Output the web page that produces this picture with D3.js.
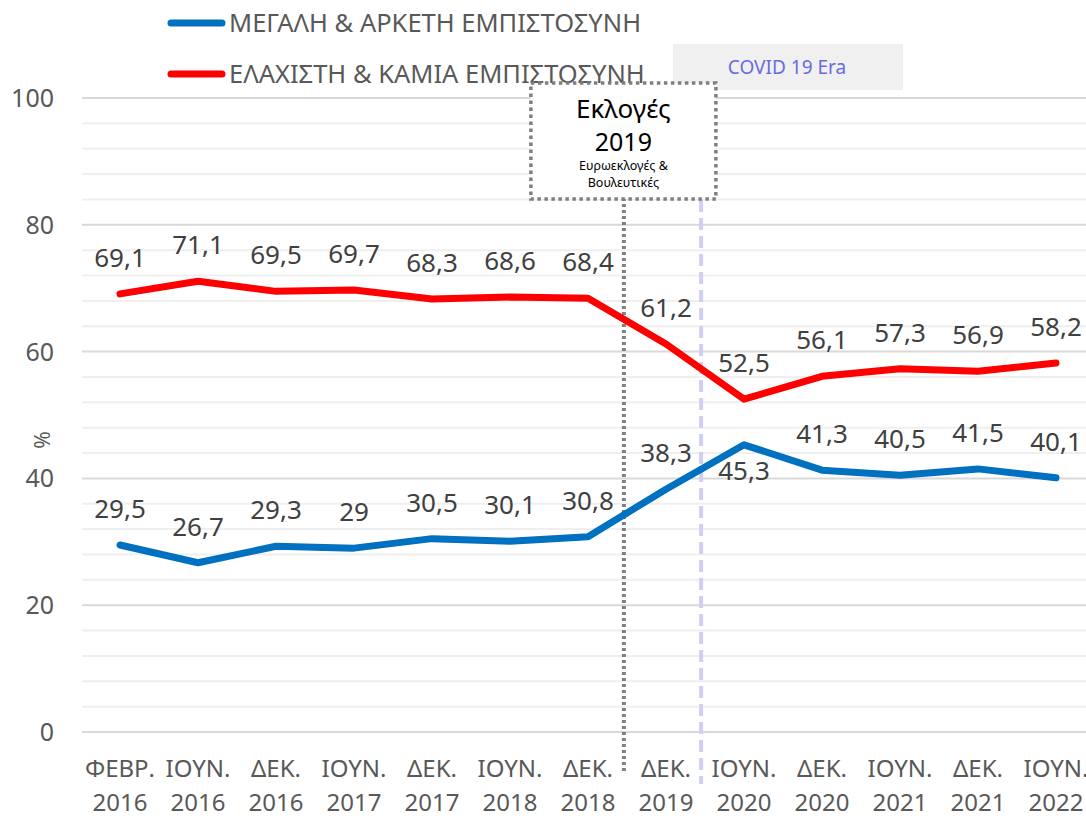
<!DOCTYPE html>
<html><head><meta charset="utf-8">
<script src="https://cdn.jsdelivr.net/npm/d3@7"></script>
<style>
html,body{margin:0;padding:0;background:#fff;}
svg{display:block;font-family:"Noto Sans","Open Sans",sans-serif;}
</style></head>
<body>
<svg id="chart" width="1086" height="818"></svg>
<script>
const categories = ["ΦΕΒΡ. 2016","ΙΟΥΝ. 2016","ΔΕΚ. 2016","ΙΟΥΝ. 2017","ΔΕΚ. 2017","ΙΟΥΝ. 2018","ΔΕΚ. 2018","ΔΕΚ. 2019","ΙΟΥΝ. 2020","ΔΕΚ. 2020","ΙΟΥΝ. 2021","ΔΕΚ. 2021","ΙΟΥΝ. 2022"];
const highTrust = [29.5,26.7,29.3,29,30.5,30.1,30.8,38.3,45.3,41.3,40.5,41.5,40.1];
const lowTrust = [69.1,71.1,69.5,69.7,68.3,68.6,68.4,61.2,52.5,56.1,57.3,56.9,58.2];
const seriesNames = ["ΜΕΓΑΛΗ & ΑΡΚΕΤΗ ΕΜΠΙΣΤΟΣΥΝΗ","ΕΛΑΧΙΣΤΗ & ΚΑΜΙΑ ΕΜΠΙΣΤΟΣΥΝΗ"];
const yTicks = [0,20,40,60,80,100];
const yMinorTicks = [4,8,12,16,24,28,32,36,44,48,52,56,64,68,72,76,84,88,92,96];
const electionCategory = "ΔΕΚ. 2019";
const covidCategory = "ΙΟΥΝ. 2020";
const electionLines = ["Εκλογές","2019","Ευρωεκλογές &","Βουλευτικές"];
const covidLabel = "COVID 19  Era";

const svg = d3.select("#chart");
const x = d3.scalePoint().domain(categories).range([120,1056]);
const y = d3.scaleLinear().domain([0,100]).range([732,98]);
const step = x.step();

// minor gridlines
svg.append("g").selectAll("line").data(yMinorTicks).join("line")
  .attr("x1",82).attr("x2",1086).attr("y1",d=>y(d)).attr("y2",d=>y(d))
  .attr("stroke","#efefef").attr("stroke-width",2);
// major gridlines
svg.append("g").selectAll("line").data(yTicks).join("line")
  .attr("x1",82).attr("x2",1086).attr("y1",d=>y(d)).attr("y2",d=>y(d))
  .attr("stroke","#d9d9d9").attr("stroke-width",2);

// y tick labels
svg.append("g").selectAll("text").data(yTicks).join("text")
  .attr("x",54).attr("y",d=>y(d)).attr("dy","0.36em")
  .attr("text-anchor","end").attr("font-size",25).attr("fill","#595959")
  .text(d=>d);

// y axis title
svg.append("text").attr("transform","translate(50,440) rotate(-90)")
  .attr("text-anchor","middle").attr("font-size",21).attr("fill","#595959").text("%");

// x labels
const xl = svg.append("g").selectAll("text").data(categories).join("text")
  .attr("text-anchor","middle").attr("font-size",24).attr("fill","#595959");
xl.each(function(d){
  const parts = d.split(" ");
  const t = d3.select(this);
  t.append("tspan").attr("x",x(d)).attr("y",777).text(parts[0]);
  t.append("tspan").attr("x",x(d)).attr("y",811).text(parts[1]);
});

// legend
const legendY = [23,74];
const colors = ["#0070c0","#ff0000"];
seriesNames.forEach((n,i)=>{
  svg.append("line").attr("x1",171).attr("x2",222).attr("y1",legendY[i]).attr("y2",legendY[i])
    .attr("stroke",colors[i]).attr("stroke-width",7).attr("stroke-linecap","round");
  svg.append("text").attr("x",229).attr("y",legendY[i]).attr("dy","0.36em")
    .attr("font-size",25.5).attr("fill","#595959").text(n);
});

// covid box
svg.append("rect").attr("x",673).attr("y",44).attr("width",230).attr("height",46).attr("fill","#f0f0f0");
svg.append("text").attr("x",787).attr("y",74).attr("text-anchor","middle")
  .attr("font-size",19).attr("fill","#6b6bdf").text(covidLabel);

// election vertical line
const ex = x(electionCategory) - step*0.54;
svg.append("line").attr("x1",ex).attr("x2",ex).attr("y1",198).attr("y2",772)
  .attr("stroke","#7f7f7f").attr("stroke-width",4).attr("stroke-dasharray","3,3");
// covid dashed line
const cx = x(covidCategory) - step*0.55;
svg.append("line").attr("x1",cx).attr("x2",cx).attr("y1",200).attr("y2",784)
  .attr("stroke","#cfcff5").attr("stroke-width",4).attr("stroke-dasharray","12,6");

// election box
svg.append("rect").attr("x",ex-93).attr("y",83).attr("width",185).attr("height",116)
  .attr("fill","#fff").attr("stroke","#7f7f7f").attr("stroke-width",3.5).attr("stroke-dasharray","3.5,3.5");
const ebx = ex-0.5;
svg.append("text").attr("x",ebx).attr("y",118).attr("text-anchor","middle").attr("font-size",26).attr("fill","#000").text(electionLines[0]);
svg.append("text").attr("x",ebx).attr("y",151).attr("text-anchor","middle").attr("font-size",25).attr("fill","#000").text(electionLines[1]);
svg.append("text").attr("x",ebx).attr("y",170).attr("text-anchor","middle").attr("font-size",12.5).attr("fill","#000").text(electionLines[2]);
svg.append("text").attr("x",ebx).attr("y",187).attr("text-anchor","middle").attr("font-size",12.5).attr("fill","#000").text(electionLines[3]);

// lines
const line = d3.line().x((d,i)=>x(categories[i])).y(d=>y(d));
[highTrust,lowTrust].forEach((s,k)=>{
  svg.append("path").datum(s).attr("d",line).attr("fill","none")
    .attr("stroke",colors[k]).attr("stroke-width",7).attr("stroke-linejoin","round").attr("stroke-linecap","round");
});

// labels
const fmt = v => String(v).replace(".",",");
[highTrust,lowTrust].forEach((s,k)=>{
  svg.append("g").selectAll("text").data(s).join("text")
    .attr("x",(d,i)=>x(categories[i]))
    .attr("y",(d,i)=> (k===0 && categories[i]===covidCategory) ? y(d)+35 : y(d)-27)
    .attr("text-anchor","middle").attr("font-size",26).attr("fill","#404040")
    .text(fmt);
});
</script>
</body></html>
